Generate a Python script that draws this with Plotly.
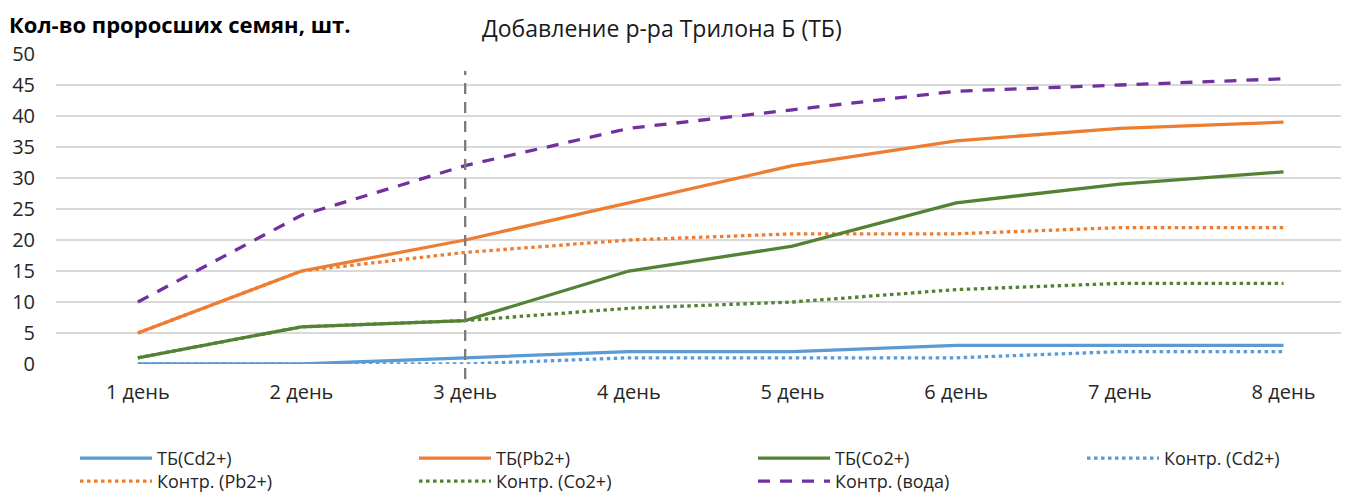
import plotly.graph_objects as go

days = ["1 день", "2 день", "3 день", "4 день", "5 день", "6 день", "7 день", "8 день"]
tb_cd = [0, 0, 1, 2, 2, 3, 3, 3]
tb_pb = [5, 15, 20, 26, 32, 36, 38, 39]
tb_co = [1, 6, 7, 15, 19, 26, 29, 31]
k_cd = [0, 0, 0, 1, 1, 1, 2, 2]
k_pb = [5, 15, 18, 20, 21, 21, 22, 22]
k_co = [1, 6, 7, 9, 10, 12, 13, 13]
k_water = [10, 24, 32, 38, 41, 44, 45, 46]
y_ticks = [0, 5, 10, 15, 20, 25, 30, 35, 40, 45, 50]

FONT = "Open Sans"
BLUE, ORANGE, GREEN, PURPLE = "#5b9bd5", "#ed7d31", "#548235", "#7030a0"

# page body adds an 8px offset; figure is sized to fit the 1349x500 window
OFF = 8
W, H = 1349 - OFF, 500 - OFF
L, R, T = 56 - OFF, 0, 54 - OFF
B = H - (364 - OFF)
PW, PH = W - L - R, H - T - B


def px_x(px):  # px in reference screen pixels
    return (px - OFF - L) / PW


def px_y(py):
    return (H - B - (py - OFF)) / PH


DASHES = {"solid": "solid", "dot": "3.5px,3.5px", "dash": "12px,10px"}

fig = go.Figure()
series = [
    ("Контр. (вода)", k_water, PURPLE, "dash", 7, "legend3"),
    ("Контр. (Cd2+)", k_cd, BLUE, "dot", 4, "legend2"),
    ("Контр. (Pb2+)", k_pb, ORANGE, "dot", 5, "legend3"),
    ("Контр. (Co2+)", k_co, GREEN, "dot", 6, "legend3"),
    ("ТБ(Cd2+)", tb_cd, BLUE, "solid", 1, "legend"),
    ("ТБ(Pb2+)", tb_pb, ORANGE, "solid", 2, "legend"),
    ("ТБ(Co2+)", tb_co, GREEN, "solid", 3, "legend"),
]
for name, vals, color, dash, rank, leg in series:
    fig.add_trace(go.Scatter(
        x=days, y=vals, name=name, mode="lines",
        line=dict(color=color, width=3.3, dash=DASHES[dash]),
        legendrank=rank, legend=leg, cliponaxis=False,
    ))

fig.add_shape(type="line", xref="x", yref="paper", x0=days[2], x1=days[2],
              y0=px_y(379), y1=px_y(71), line=dict(color="#7a7a7a", width=2.3, dash="11px,8px"))

fig.add_annotation(text="<b>Кол-во проросших семян, шт.</b>", xref="paper", yref="paper",
                   x=px_x(8), y=px_y(24), xanchor="left", yanchor="middle", showarrow=False,
                   borderpad=0, font=dict(family=FONT, size=22, color="#000000"))
fig.add_annotation(text="Добавление р-ра Трилона Б (ТБ)", xref="paper", yref="paper",
                   x=px_x(662), y=px_y(28), xanchor="center", yanchor="middle", showarrow=False,
                   borderpad=0, font=dict(family=FONT, size=23, color="#1a1a1a"))

legend_common = dict(orientation="h", xref="container", yref="container",
                     xanchor="left", itemwidth=72, entrywidth=252,
                     entrywidthmode="pixels", traceorder="normal",
                     bgcolor="rgba(0,0,0,0)", font=dict(size=18, color="#262626"))

fig.update_layout(
    width=W, height=H,
    margin=dict(l=L, r=R, t=T, b=B, autoexpand=False),
    paper_bgcolor="white", plot_bgcolor="white",
    font=dict(family=FONT, size=18, color="#262626"),
    xaxis=dict(type="category", range=[-0.5, 7.4], showgrid=False, zeroline=False,
               showline=False, ticks="", ticklabelstandoff=14, automargin=False,
               tickfont=dict(size=20, color="#262626")),
    yaxis=dict(range=[0, 50], tickvals=y_ticks, showgrid=True, gridcolor="#d9d9d9",
               gridwidth=1.5, zeroline=False, showline=False, ticks="", automargin=False,
               ticklabelstandoff=20, tickfont=dict(size=20, color="#262626")),
    showlegend=True,
    legend=dict(x=67 / W, y=1 - 432 / H, yanchor="top", **legend_common),
    legend2=dict(x=1074 / W, y=1 - 432 / H, yanchor="top", **legend_common),
    legend3=dict(x=67 / W, y=0, yanchor="bottom", **legend_common),
)

fig.write_html("out.html")
